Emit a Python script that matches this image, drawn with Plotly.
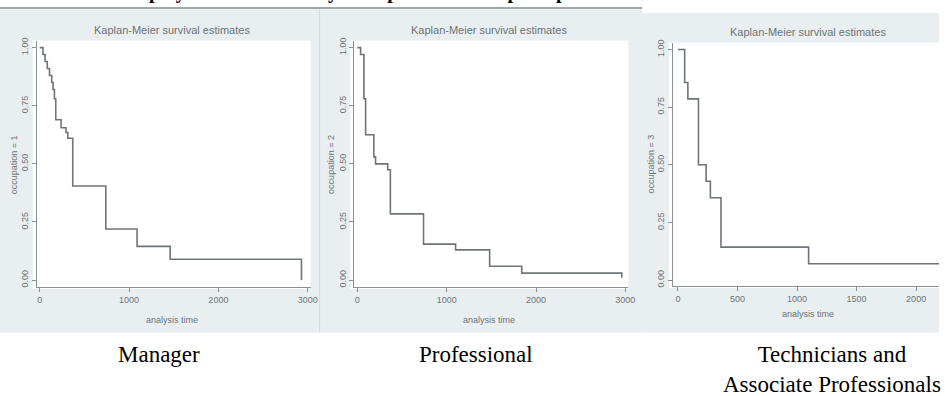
import plotly.graph_objects as go

W, H = 946, 396

# Kaplan-Meier step estimates by occupation group (analysis time in days)
mgr_time = [0, 37, 60, 85, 110, 135, 150, 165, 180, 240, 295, 315, 370, 740, 1090, 1460, 2930]
mgr_surv = [1.0, 0.97, 0.94, 0.91, 0.88, 0.85, 0.82, 0.78, 0.69, 0.655, 0.635, 0.61, 0.405, 0.22, 0.145, 0.09, 0.0]

pro_time = [0, 37, 74, 93, 185, 204, 340, 370, 741, 1100, 1481, 1840, 2960]
pro_surv = [1.0, 0.97, 0.78, 0.625, 0.53, 0.50, 0.475, 0.285, 0.155, 0.13, 0.06, 0.03, 0.01]

tech_time = [0, 56, 83, 172, 236, 272, 361, 1097, 2600]
tech_surv = [1.0, 0.857, 0.786, 0.5, 0.429, 0.357, 0.143, 0.071, 0.071]

group_names = ["Manager", "Professional", "Technicians and<br>Associate Professionals"]
y_titles = ["occupation = 1", "occupation = 2", "occupation = 3"]
panel_title = "Kaplan-Meier survival estimates"
x_title = "analysis time"
x_ticks_long = [0, 1000, 2000, 3000]
x_ticks_short = [0, 500, 1000, 1500, 2000]
y_ticks = [0, 0.25, 0.5, 0.75, 1.0]
page_title = "Employment Duration by Occupational Group: Kaplan-Meier Survival Estimates"

BG = "#E9EFF1"
LINE = "#6f7479"
AXIS = "#8a8f93"
TXT = "#6d7276"


def fx(px):
    return px / W


def fy(py):
    return 1 - py / H


panels = [
    dict(t=mgr_time, s=mgr_surv, bg=(0, 322, 5, 333), white=(33, 313, 38, 289),
         xdom=(37, 313), ydom=(38, 287), xr=[-33, 3033], yr=[-0.03, 1.03],
         xt=x_ticks_long, title=(173, 27), xlab=(173, 320), ylab=(14, 163)),
    dict(t=pro_time, s=pro_surv, bg=(322, 647, 5, 333), white=(353, 633, 38, 289),
         xdom=(357, 633), ydom=(38, 287), xr=[-33, 3033], yr=[-0.03, 1.03],
         xt=x_ticks_long, title=(493, 27), xlab=(493, 320), ylab=(334, 163)),
    dict(t=tech_time, s=tech_surv, bg=(647, 946, 10, 333), white=(674, 946, 40, 288),
         xdom=(678, 946), ydom=(40, 286), xr=[-42, 2192], yr=[-0.026, 1.03],
         xt=x_ticks_short, title=(814, 29), xlab=(814, 314), ylab=(656, 163)),
]

fig = go.Figure()
shapes = []
annotations = []
layout_axes = {}

for i, p in enumerate(panels):
    n = "" if i == 0 else str(i + 1)
    x0, x1, y0, y1 = p["bg"]
    shapes.append(dict(type="rect", xref="paper", yref="paper", layer="below",
                       x0=fx(x0), x1=fx(x1), y0=fy(y1), y1=fy(y0),
                       fillcolor=BG, line=dict(width=0)))
    wx0, wx1, wy0, wy1 = p["white"]
    shapes.append(dict(type="rect", xref="paper", yref="paper", layer="below",
                       x0=fx(wx0), x1=fx(wx1), y0=fy(wy1), y1=fy(wy0),
                       fillcolor="white", line=dict(width=0)))

    fig.add_trace(go.Scatter(x=p["t"], y=p["s"], mode="lines", line_shape="hv",
                             line=dict(color=LINE, width=1.6),
                             xaxis="x" + n, yaxis="y" + n, showlegend=False,
                             hoverinfo="skip"))

    common = dict(showline=True, linecolor=AXIS, linewidth=1, ticks="outside",
                  ticklen=4, tickcolor=AXIS, showgrid=False, zeroline=False,
                  tickfont=dict(family="Liberation Sans", size=9, color=TXT))
    layout_axes["xaxis" + n] = dict(common, domain=[fx(p["xdom"][0]), fx(p["xdom"][1])],
                                    range=p["xr"], tickvals=p["xt"],
                                    anchor="y" + n)
    layout_axes["yaxis" + n] = dict(common, domain=[fy(p["ydom"][1]), fy(p["ydom"][0])],
                                    range=p["yr"], tickvals=y_ticks, tickformat=".2f",
                                    tickangle=-90, anchor="x" + n)

    annotations.append(dict(text=panel_title, xref="paper", yref="paper",
                            x=fx(p["title"][0]), y=fy(p["title"][1]),
                            xanchor="center", yanchor="middle", showarrow=False,
                            font=dict(family="Liberation Sans", size=11, color=TXT)))
    annotations.append(dict(text=x_title, xref="paper", yref="paper",
                            x=fx(p["xlab"][0]), y=fy(p["xlab"][1]),
                            xanchor="center", yanchor="middle", showarrow=False,
                            font=dict(family="Liberation Sans", size=9, color=TXT)))
    annotations.append(dict(text=y_titles[i], xref="paper", yref="paper", textangle=-90,
                            x=fx(p["ylab"][0]), y=fy(p["ylab"][1]),
                            xanchor="center", yanchor="middle", showarrow=False,
                            font=dict(family="Liberation Sans", size=9, color=TXT)))

# divider and top rule of the first two panels
shapes.append(dict(type="line", xref="paper", yref="paper", x0=fx(322), x1=fx(322),
                   y0=fy(333), y1=fy(5), line=dict(color="#d3dadd", width=1)))
shapes.append(dict(type="line", xref="paper", yref="paper", x0=0, x1=fx(647),
                   y0=fy(5), y1=fy(5), line=dict(color="#a3a7aa", width=2)))

# group captions under the panels
for name, cx, cy in zip(group_names, [160, 480, 838], [355, 355, 370]):
    annotations.append(dict(text=name, xref="paper", yref="paper", x=fx(cx), y=fy(cy),
                            xanchor="center", yanchor="middle",
                            showarrow=False, align="center",
                            font=dict(family="Liberation Serif", size=23, color="black")))

# page heading above the figure
annotations.append(dict(text="<b>" + page_title + "</b>", xref="paper", yref="paper",
                        x=fx(118), y=fy(2), xanchor="left", yanchor="bottom",
                        showarrow=False,
                        font=dict(family="Liberation Serif", size=20, color="black")))

fig.update_layout(width=W, height=H, margin=dict(l=0, r=0, t=0, b=0),
                  paper_bgcolor="white", plot_bgcolor="rgba(0,0,0,0)",
                  shapes=shapes, annotations=annotations, **layout_axes)

fig.write_html("out.html")
